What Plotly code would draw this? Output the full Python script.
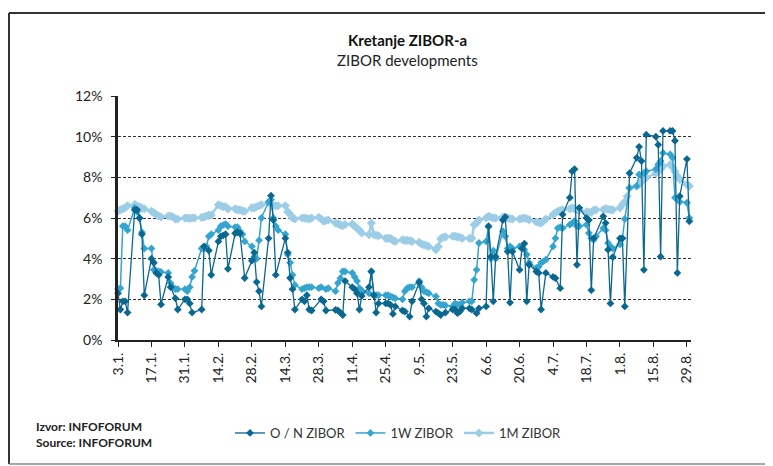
import pandas as pd
import plotly.graph_objects as go

# business days of the period shown
dates = pd.bdate_range("2005-01-03", "2005-08-30")

# O/N ZIBOR (%), one row per week Mon..Fri (None = no quote)
on_weeks = [
    [2.3, 1.5, 1.9, 1.9, 1.35], [6.4, 6.4, 6.0, 5.2, 2.2], [4.0, 3.8, 3.3, 3.2, 1.75],
    [3.1, 2.6, None, 2.05, 1.5], [2.0, 2.0, 1.8, 1.35, None], [1.5, 4.6, None, 4.4, 3.2],
    [4.85, 5.1, 5.15, 5.2, 3.5], [5.25, 5.3, 5.25, None, 3.05], [3.9, 4.3, 2.85, 2.4, 1.65],
    [5.0, 7.1, 5.9, 3.2, None], [5.0, 4.3, 3.05, 2.5, 1.5], [2.0, 1.9, 2.2, 1.5, 1.45],
    [None, 2.0, 1.9, 1.45, None], [1.48, 1.45, 1.35, 1.23, 2.9], [2.6, 2.5, 2.3, 1.5, 2.17],
    [2.6, 3.37, 2.2, 1.35, 1.8], [1.8, 1.8, 1.73, 1.28, 1.65], [1.45, 1.4, None, 1.15, 1.9],
    [2.83, 2.0, 1.8, 1.15, 1.56], [1.4, 1.32, 1.23, None, 1.35], [1.5, 1.5, 1.32, 1.4, 1.56],
    [1.56, 1.5, None, 1.32, 1.56], [1.65, 5.6, 4.1, 1.9, 4.1], [5.9, 6.05, 4.35, 1.84, 4.35],
    [3.45, 4.5, 4.74, 1.9, 3.7], [3.37, 3.3, 1.5, None, 3.3], [3.1, 3.04, None, 2.55, 6.17],
    [7.0, 8.3, 8.4, 3.7, 6.5], [6.0, 5.9, 2.45, 5.0, None], [6.08, 5.75, 4.44, 1.8, 4.08],
    [5.0, 5.0, 1.65, None, 8.2], [8.96, 9.5, 8.8, 3.45, 10.1], [None, 10.0, 9.6, 4.1, 10.28],
    [10.28, 10.28, 9.8, 3.3, 7.07], [8.9, 5.84],
]

# 1W ZIBOR (%)
w1_weeks = [
    [2.5, 2.55, 5.6, 5.6, 5.4], [6.5, 6.3, 6.0, 5.3, 4.5], [4.5, 3.45, 3.4, 3.37, 3.35],
    [3.3, 2.8, 2.6, 2.5, 2.5], [2.5, 2.4, 2.6, 3.1, 3.4], [4.5, 4.5, 4.6, 5.1, 5.2],
    [5.4, 5.6, 5.65, 5.7, 5.6], [5.55, 5.55, 5.35, 5.2, 4.85], [4.6, 4.1, 4.0, 4.9, 6.0],
    [6.8, 6.9, 6.0, 5.6, 5.4], [5.2, 4.2, 3.8, 3.2, 2.7], [2.5, 2.55, 2.6, 2.6, 2.6],
    [2.55, 2.6, None, 2.5, 2.55], [2.4, 2.8, 3.04, 3.37, 3.37], [3.3, 3.1, 2.9, 2.55, 2.43],
    [2.3, 3.37, 2.2, 2.2, 2.2], [2.2, 2.2, 2.14, 2.1, 2.05], [2.0, 2.4, 2.55, 2.6, 2.6],
    [2.9, 2.6, 2.4, 2.35, 2.3], [2.14, 1.8, 1.73, 1.73, 1.7], [1.65, 1.8, 1.75, 1.73, 1.84],
    [1.9, 1.9, 2.96, 3.45, 4.77], [4.85, 5.57, 4.0, 4.4, 4.0], [5.35, 5.1, 4.5, 4.6, 4.5],
    [4.6, 4.6, 4.44, 4.2, 3.8], [3.54, 3.6, 3.8, 3.87, 3.95], [4.6, 5.0, 5.5, 5.55, 5.5],
    [5.67, 5.75, 5.84, 5.6, 5.6], [5.67, 5.26, 5.0, 4.93, 5.1], [5.5, 5.4, 4.77, 4.6, 4.5],
    [4.7, 5.0, 5.95, None, 7.48], [7.57, 8.14, None, 8.2, 8.3], [None, 8.4, 8.63, 8.8, 9.2],
    [9.13, 8.96, 7.0, 6.9, 6.8], [6.75, 6.0],
]

# 1M ZIBOR (%)
m1_weeks = [
    [6.35, 6.4, 6.45, 6.5, 6.6], [6.66, 6.6, 6.55, 6.5, 6.45], [6.33, 6.25, 6.17, 6.1, 6.05],
    [6.1, 6.1, 6.05, 5.95, 5.95], [6.0, 6.0, 5.98, 6.0, 6.0], [6.03, 6.05, 6.1, 6.13, 6.15],
    [6.65, 6.6, 6.55, 6.55, 6.45], [6.45, 6.4, 6.4, 6.35, 6.33], [6.5, 6.5, 6.55, 6.6, 6.65],
    [6.75, 6.7, 6.6, 6.6, 6.6], [6.6, 6.3, 6.2, 6.0, 5.95], [6.0, 6.0, 5.98, 5.95, 6.0],
    [6.04, 5.95, 5.84, 5.88, 5.9], [5.75, 5.72, 5.66, 5.62, 5.68], [5.7, 5.6, 5.5, 5.4, 5.26],
    [5.18, 5.75, 5.18, 5.15, 5.13], [5.0, 5.0, 5.0, 4.9, 4.85], [4.93, 4.9, 4.9, 4.88, 4.85],
    [4.8, 4.72, 4.68, 4.65, 4.6], [4.44, 4.6, 4.98, 5.05, 5.07], [5.1, 5.1, 5.07, 5.05, 5.0],
    [5.0, 5.0, 5.67, 5.75, 5.9], [6.0, 6.08, 6.05, 6.0, 6.0], [6.05, 6.03, 6.0, 5.97, 5.95],
    [5.95, 5.98, 6.0, 5.96, 5.92], [5.8, 5.78, 5.75, 5.85, 5.95], [6.17, 6.25, 6.33, 6.37, 6.4],
    [6.45, 6.5, 6.45, 6.4, 6.38], [6.3, 6.28, 6.28, 6.38, 6.4], [6.42, 6.45, 6.43, 6.4, 6.4],
    [6.5, 6.66, 6.8, 7.07, 7.48], [7.57, 7.65, 7.8, 7.9, 7.98], [None, 8.2, 8.3, 8.4, 8.55],
    [8.63, 8.5, 8.3, 8.06, 7.9], [7.65, 7.57],
]

tick_dates = ["2005-01-03", "2005-01-17", "2005-01-31", "2005-02-14", "2005-02-28",
              "2005-03-14", "2005-03-28", "2005-04-11", "2005-04-25", "2005-05-09",
              "2005-05-23", "2005-06-06", "2005-06-20", "2005-07-04", "2005-07-18",
              "2005-08-01", "2005-08-15", "2005-08-29"]
tick_labels = ["3.1.", "17.1.", "31.1.", "14.2.", "28.2.", "14.3.", "28.3.", "11.4.",
               "25.4.", "9.5.", "23.5.", "6.6.", "20.6.", "4.7.", "18.7.", "1.8.",
               "15.8.", "29.8."]

flat = lambda weeks: [v for w in weeks for v in w]
on_vals, w1_vals, m1_vals = flat(on_weeks), flat(w1_weeks), flat(m1_weeks)

C_ON, C_1W, C_1M = "#0a6790", "#35a5cf", "#9dcde6"
FONT = "Lato, 'Open Sans', sans-serif"

fig = go.Figure()
fig.add_trace(go.Scatter(x=dates, y=m1_vals, name="1M ZIBOR", mode="lines+markers",
                         line=dict(color=C_1M, width=2.5),
                         marker=dict(symbol="diamond", size=7, color=C_1M),
                         connectgaps=True, cliponaxis=False, legendrank=3))
fig.add_trace(go.Scatter(x=dates, y=w1_vals, name="1W ZIBOR", mode="lines+markers",
                         line=dict(color=C_1W, width=1.5),
                         marker=dict(symbol="diamond", size=6, color=C_1W),
                         connectgaps=True, cliponaxis=False, legendrank=2))
fig.add_trace(go.Scatter(x=dates, y=on_vals, name="O / N ZIBOR", mode="lines+markers",
                         line=dict(color=C_ON, width=1.3),
                         marker=dict(symbol="diamond", size=6, color=C_ON),
                         connectgaps=True, cliponaxis=False, legendrank=1))

# page has an 8px body margin; work in reference-pixel coordinates and shift
OFF = 8
W, H = 773 - OFF, 466 - OFF
L, R, T, B = 118 - OFF, 691 - OFF, 96 - OFF, 340 - OFF
pw, ph = R - L, B - T
px = lambda x: (x - OFF - L) / pw
py = lambda y: (B - (y - OFF)) / ph

fig.update_layout(
    width=W, height=H,
    margin=dict(l=L, r=W - R, t=T, b=H - B),
    paper_bgcolor="white", plot_bgcolor="white",
    font=dict(family=FONT, color="#222"),
    hovermode=False,
    showlegend=True,
    legend=dict(orientation="h", x=px(230), y=py(433), xanchor="left", yanchor="middle",
                font=dict(size=13, color="#333"), bgcolor="rgba(0,0,0,0)",
                itemwidth=30, tracegroupgap=0),
    xaxis=dict(type="date", range=["2005-01-03", "2005-08-30 17:00"],
               tickmode="array", tickvals=tick_dates, ticktext=tick_labels,
               tickangle=-90, tickfont=dict(size=14, color="#222"),
               ticks="outside", ticklen=5, tickcolor="#222", tickwidth=1,
               showline=True, linecolor="#222", linewidth=2,
               showgrid=False, zeroline=False),
    yaxis=dict(range=[0, 12], tickvals=[0, 2, 4, 6, 8, 10, 12],
               ticktext=["0%", "2%", "4%", "6%", "8%", "10%", "12%"],
               tickfont=dict(size=14, color="#222"),
               ticks="outside", ticklen=4, tickcolor="#222", ticklabelstandoff=6,
               showline=True, linecolor="#222", linewidth=2.5,
               showgrid=True, gridcolor="#333", gridwidth=1, griddash="3px,2px",
               zeroline=False),
    annotations=[
        dict(text="<b>Kretanje ZIBOR-a</b>", xref="paper", yref="paper",
             x=px(407), y=py(40), xanchor="center", yanchor="middle", showarrow=False,
             font=dict(size=15, color="#111")),
        dict(text="ZIBOR developments", xref="paper", yref="paper",
             x=px(407), y=py(60), xanchor="center", yanchor="middle", showarrow=False,
             font=dict(size=15, color="#222")),
        dict(text="<b>Izvor: INFOFORUM<br>Source: INFOFORUM</b>", xref="paper", yref="paper",
             x=px(34), y=py(434), xanchor="left", yanchor="middle", align="left",
             showarrow=False, font=dict(size=12, color="#222")),
    ],
    shapes=[
        dict(type="line", xref="paper", yref="paper", x0=px(9), x1=px(790), y0=py(13), y1=py(13),
             line=dict(color="#333", width=2)),
        dict(type="line", xref="paper", yref="paper", x0=px(9), x1=px(9), y0=py(13), y1=py(464),
             line=dict(color="#333", width=2)),
        dict(type="line", xref="paper", yref="paper", x0=px(9), x1=px(790), y0=py(464), y1=py(464),
             line=dict(color="#888", width=1.5)),
    ],
)

fig.write_html("out.html")
